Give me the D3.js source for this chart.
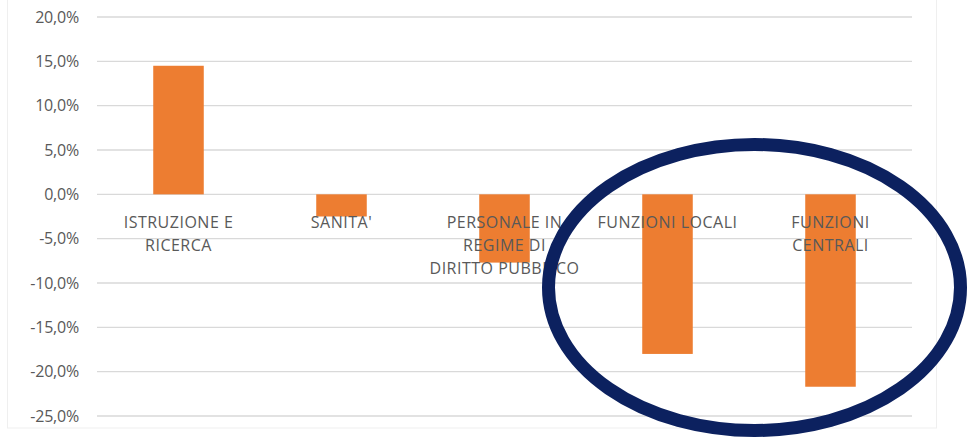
<!DOCTYPE html>
<html>
<head>
<meta charset="utf-8">
<script src="https://cdn.jsdelivr.net/npm/d3@7"></script>
<style>
  body { margin: 0; background: #fff; }
  svg { display: block; }
</style>
</head>
<body>
<svg id="chart"></svg>
<script>
const categories = ["ISTRUZIONE E RICERCA", "SANITA'", "PERSONALE IN REGIME DI DIRITTO PUBBLICO", "FUNZIONI LOCALI", "FUNZIONI CENTRALI"];
const labelLines = [
    ["ISTRUZIONE E", "RICERCA"],
    ["SANITA'"],
    ["PERSONALE IN", "REGIME DI", "DIRITTO PUBBLICO"],
    ["FUNZIONI LOCALI"],
    ["FUNZIONI", "CENTRALI"]
];
const values = [0.145, -0.025, -0.077, -0.180, -0.217];
const yTicks = [0.20, 0.15, 0.10, 0.05, 0, -0.05, -0.10, -0.15, -0.20, -0.25];

const width = 977, height = 439;
const plotLeft = 97, plotRight = 912;
const yTop = 17, yBottom = 416;
const fontFamily = '"Open Sans", Lato, sans-serif';

const itLocale = d3.formatLocale({ decimal: ",", thousands: ".", grouping: [3], currency: ["€", ""], minus: "-" });
const pct = itLocale.format(".1%");

const svg = d3.select('#chart')
    .attr('width', width)
    .attr('height', height);

// faint chart frame
svg.append('rect')
    .attr('x', 7.5)
    .attr('y', -5)
    .attr('width', 929)
    .attr('height', 433)
    .attr('fill', 'none')
    .attr('stroke', '#efefef')
    .attr('stroke-width', 1);

const x = d3.scaleBand()
    .domain(categories)
    .range([plotLeft, plotRight])
    .paddingInner(0.69)
    .paddingOuter(0.345);

const y = d3.scaleLinear()
    .domain([-0.25, 0.20])
    .range([yBottom, yTop]);

// gridlines
svg.append('g')
    .selectAll('line')
    .data(yTicks)
    .join('line')
    .attr('x1', plotLeft)
    .attr('x2', plotRight)
    .attr('y1', d => y(d))
    .attr('y2', d => y(d))
    .attr('stroke', '#d9d9d9')
    .attr('stroke-width', 1.3);

// y labels
svg.append('g')
    .selectAll('text')
    .data(yTicks)
    .join('text')
    .attr('x', 79)
    .attr('y', d => y(d))
    .attr('dy', '0.35em')
    .attr('text-anchor', 'end')
    .attr('font-family', fontFamily)
    .attr('font-size', 16)
    .attr('letter-spacing', -0.2)
    .attr('fill', '#595959')
    .text(d => pct(d));

// bars
svg.append('g')
    .selectAll('rect')
    .data(values)
    .join('rect')
    .attr('x', (d, i) => x(categories[i]))
    .attr('width', x.bandwidth())
    .attr('y', d => y(Math.max(0, d)))
    .attr('height', d => Math.abs(y(d) - y(0)))
    .attr('fill', '#ed7d31');

// category labels (drawn over the bars)
const labelGroups = svg.append('g')
    .selectAll('text')
    .data(labelLines)
    .join('text')
    .attr('text-anchor', 'middle')
    .attr('font-family', fontFamily)
    .attr('font-size', 16)
    .attr('letter-spacing', 0.5)
    .attr('fill', '#595959');

labelGroups.selectAll('tspan')
    .data((d, i) => d.map(line => ({ line, cat: categories[i] })))
    .join('tspan')
    .attr('x', d => x(d.cat) + x.bandwidth() / 2)
    .attr('y', (d, j) => y(0) + 34 + j * 23)
    .text(d => d.line);

// highlight ellipse
svg.append('ellipse')
    .attr('cx', 754.5)
    .attr('cy', 287.5)
    .attr('rx', 206)
    .attr('ry', 143)
    .attr('fill', 'none')
    .attr('stroke', '#0c215f')
    .attr('stroke-width', 13);
</script>
</body>
</html>
